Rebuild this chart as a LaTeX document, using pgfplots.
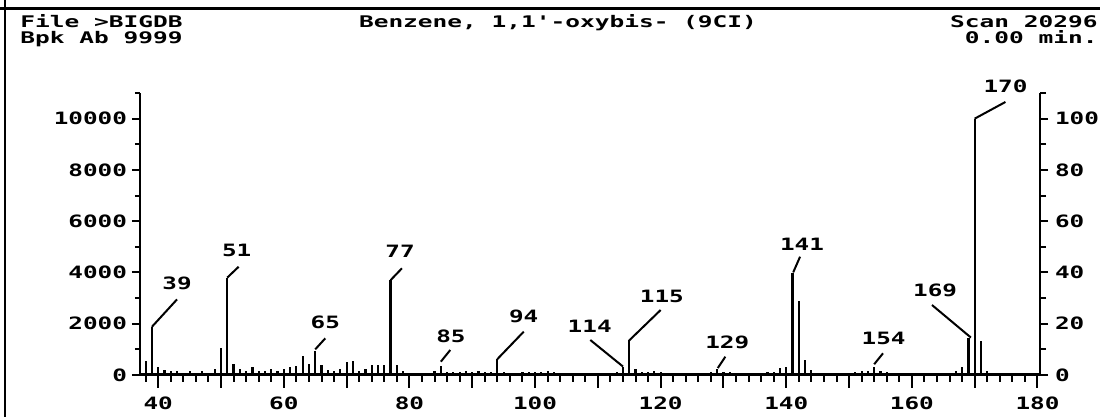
\documentclass[border=0pt]{standalone}
\usepackage{fontspec}
\usepackage{pgfplots}
\pgfplotsset{compat=1.18}
\newfontfamily\hp[FakeStretch=1.43]{DejaVu Sans Mono}
\newfontfamily\hq[FakeStretch=1.53]{DejaVu Sans Mono}
\newcommand\lf{\hp\bfseries\fontsize{8.5}{10}\selectfont}
\newcommand\hf{\hq\bfseries\fontsize{8}{9}\selectfont}

\pgfplotstableread{
mz   ab
38   560
39   1880
40   320
41   210
42   140
43   140
45   170
47   170
49   230
50   1050
51   3800
52   430
53   230
54   170
55   320
56   170
57   170
58   230
59   170
60   230
61   300
62   360
63   750
64   430
65   920
66   400
67   210
68   170
69   230
70   500
71   560
72   170
73   230
74   390
75   390
76   390
77   3700
78   390
79   170
83   90
84   170
85   350
86   130
87   130
88   130
89   170
90   130
91   170
92   130
93   130
94   620
95   130
98   130
99   130
100  130
101  130
102  170
103  130
105  90
113  130
114  330
115  1350
116  220
117  130
118  130
119  170
120  130
121  90
125  90
126  90
127  90
128  130
129  250
130  130
131  130
132  90
137  130
138  130
139  260
140  330
141  3960
142  2900
143  590
144  200
151  130
152  170
153  170
154  330
155  170
156  130
165  90
167  160
168  330
169  1460
170  9999
171  1330
172  160
}\spectrum

\pgfplotsset{
  base/.style={
    scale only axis, width=450pt, height=141pt,
    xmin=37.1, xmax=180.4,
    clip=false,
    axis line style={-, line width=1pt},
    tick align=outside,
    every tick/.style={black, line width=1pt},
    tick label style={font=\lf},
    scaled ticks=false,
    /pgf/number format/assume math mode=true,
    /pgf/number format/1000 sep={},
  }
}

\begin{document}
\begin{tikzpicture}
\useasboundingbox (-70pt,-21pt) rectangle (480pt,187.5pt);

% bars and x axis
\begin{axis}[base,
  ymin=0, ymax=11000,
  axis x line*=bottom, axis y line=none,
  x axis line style={-, line width=1.5pt},
  xtick={40,50,...,180},
  xticklabels={40,,60,,80,,100,,120,,140,,160,,180},
  minor xtick={38,40,...,180},
  major tick length=6.5pt,
  minor tick length=3.5pt,
  xticklabel style={anchor=north, yshift=-1pt},
]
\addplot[ycomb, black, line width=1.1pt] table[x=mz, y=ab] {\spectrum};

\draw[line width=1pt] (axis cs:39,1880) -- (axis cs:43.0,2950);
\node[font=\lf] at (axis cs:43.0,3590) {39};
\draw[line width=1pt] (axis cs:51,3800) -- (axis cs:52.8,4220);
\node[font=\lf] at (axis cs:52.5,4875) {51};
\draw[line width=1pt] (axis cs:65,1000) -- (axis cs:66.6,1430);
\node[font=\lf] at (axis cs:66.6,2050) {65};
\draw[line width=1pt] (axis cs:77,3700) -- (axis cs:78.8,4160);
\node[font=\lf] at (axis cs:78.5,4810) {77};
\draw[line width=1pt] (axis cs:85,520) -- (axis cs:86.5,975);
\node[font=\lf] at (axis cs:86.6,1520) {85};
\draw[line width=1pt] (axis cs:94,620) -- (axis cs:98.2,1690);
\node[font=\lf] at (axis cs:98.2,2275) {94};
\draw[line width=1pt] (axis cs:114,330) -- (axis cs:108.8,1365);
\node[font=\lf] at (axis cs:108.7,1910) {114};
\draw[line width=1pt] (axis cs:115,1350) -- (axis cs:120,2535);
\node[font=\lf] at (axis cs:120.2,3080) {115};
\draw[line width=1pt] (axis cs:129.1,270) -- (axis cs:130.3,715);
\node[font=\lf] at (axis cs:130.6,1260) {129};
\draw[line width=1pt] (axis cs:141.1,4000) -- (axis cs:142.2,4615);
\node[font=\lf] at (axis cs:142.5,5110) {141};
\draw[line width=1pt] (axis cs:154,420) -- (axis cs:155.4,845);
\node[font=\lf] at (axis cs:155.5,1430) {154};
\draw[line width=1pt] (axis cs:169.4,1460) -- (axis cs:163.2,2730);
\node[font=\lf] at (axis cs:163.7,3315) {169};
\draw[line width=1pt] (axis cs:170,9999) -- (axis cs:174.9,10650);
\node[font=\lf] at (axis cs:174.9,11245) {170};
\end{axis}

% left y axis
\begin{axis}[base,
  ymin=0, ymax=11000,
  axis x line=none, axis y line*=left,
  ytick={0,2000,...,10000},
  minor ytick={1000,3000,...,11000},
  major tick length=4pt,
  minor tick length=2.5pt,
  yticklabel style={anchor=east, xshift=1pt},
]
\end{axis}

% right y axis
\begin{axis}[base,
  ymin=0, ymax=110,
  axis x line=none, axis y line*=right,
  ytick={0,20,...,100},
  minor ytick={10,30,...,110},
  major tick length=4pt,
  minor tick length=3pt,
  yticklabel style={anchor=west, xshift=0pt},
]
\end{axis}

% frame and header
\draw[line width=1.5pt] (-70pt,183pt) -- (480pt,183pt);
\draw[line width=1pt] (-67.5pt,187.5pt) -- (-67.5pt,-21pt);
\tikzset{hdr/.style={font=\hf, inner sep=0pt, text height=5.8pt, text depth=0pt}}
\node[hdr, anchor=west] at (-60pt,176.5pt) {File >BIGDB};
\node[hdr, anchor=west] at (-60pt,168.8pt) {Bpk Ab 9999};
\node[hdr] at (209pt,176.5pt) {Benzene, 1,1'-oxybis- (9CI)};
\node[hdr, anchor=east] at (479pt,176.5pt) {Scan 20296};
\node[hdr, anchor=east] at (479pt,168.8pt) {0.00 min.};
\end{tikzpicture}
\end{document}
